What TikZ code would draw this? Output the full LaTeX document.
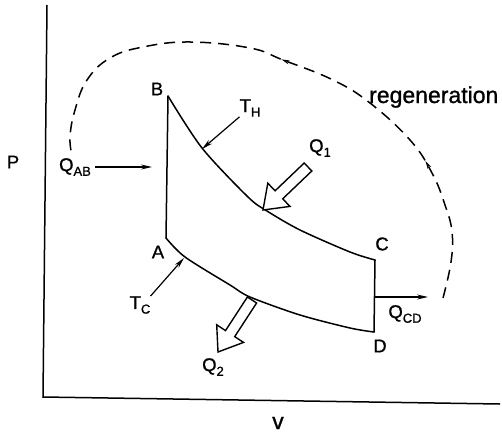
\documentclass[tikz,border=0pt]{standalone}
\usepackage{fontspec}
\setmainfont{Liberation Sans}[FakeBold=1]
\usetikzlibrary{arrows.meta,decorations.markings}
\newcommand\lsub[1]{\raisebox{-0.25em}{\fontsize{13}{13}\selectfont #1}}
\begin{document}
\begin{tikzpicture}[x=1pt,y=-1pt,
  ax/.style={line width=1.5pt},
  cyc/.style={line width=1.5pt, line cap=round, line join=round},
  lbl/.style={font=\fontsize{18.5}{18.5}\selectfont, inner sep=0pt},
  ptr/.style={line width=1.2pt, -{Stealth[length=11pt,width=5pt]}},
  hollow/.style={line width=1.4pt, fill=white, line join=miter},
  regen/.style={line width=1.5pt, dash pattern=on 11pt off 7pt}]
\useasboundingbox (0,0) rectangle (502,433);
% axes
\coordinate (ytop) at (47,5);
\coordinate (O) at (43,397);
\coordinate (xend) at (500,404);
\draw[ax] (ytop) -- (O) -- (xend);
\node[lbl] (Pl) at (13,162) {P};
\node[lbl, font=\fontsize{23}{23}\selectfont] (vl) at (278,423) {v};
% cycle corners
\coordinate (B) at (168,96);
\coordinate (A) at (166,238);
\coordinate (C) at (375,260);
\coordinate (D) at (374,332);
\draw[cyc] (A) -- (B);
\draw[cyc] plot[smooth] coordinates {(B) (202,148) (248,197) (267,211) (300,230) (350,252) (C)};
\draw[cyc] (C) -- (D);
\draw[cyc] plot[smooth] coordinates {(A) (185,257) (230,285) (250,297) (300,315) (350,328) (D)};
\node[lbl] (Bl) at (157,89) {B};
\node[lbl] (Al) at (158,252) {A};
\node[lbl] (Cl) at (382,244) {C};
\node[lbl] (Dl) at (380,346) {D};
% temperature labels
\node[lbl] (THl) at (250,108) {T\lsub{H}};
\coordinate (th) at (202,149);
\draw[ptr] (THl.south west) -- (th);
\node[lbl] (TCl) at (140,305) {T\lsub{C}};
\coordinate (tc) at (184,258);
\draw[ptr] (TCl.north east) -- (tc);
% heat flows
\node[lbl] (QABl) at (75,167) {Q\lsub{AB}};
\coordinate (qab) at (152,167);
\draw[ptr] ([xshift=4pt]QABl.east) -- (qab);
\coordinate (qcd0) at (375,297);
\coordinate (qcd1) at (428,297);
\draw[ptr] (qcd0) -- (qcd1);
\node[lbl] (QCDl) at (405,314) {Q\lsub{CD}};
% hollow arrows
\draw[hollow] (263,210) -- (290.0,206.4) -- (282.7,198.8) -- (311.8,171.0) -- (304.2,163.0) -- (275.1,190.8) -- (267.8,183.2) -- cycle;
\node[lbl] (Q1l) at (320,148) {Q\lsub{1}};
\draw[hollow] (218,352) -- (243.5,342.4) -- (234.7,336.6) -- (256.6,303.0) -- (247.4,297.0) -- (225.5,330.6) -- (216.7,324.8) -- cycle;
\node[lbl] (Q2l) at (213,367) {Q\lsub{2}};
% regeneration
\coordinate (rs) at (443,298);
\coordinate (re) at (72,155);
\draw[regen, postaction={decorate}, decoration={markings,
   mark=at position 0.235 with {\arrow[solid]{Stealth[length=8pt,width=4pt]}},
   mark=at position 0.53 with {\arrow[solid]{Stealth[length=8pt,width=4pt]}}}]
  plot[smooth, tension=0.7] coordinates {(rs) (451,262) (452,232) (445,205) (432,173) (410,140) (370,103) (333,80) (283,60) (250,48) (190,42) (143,47) (110,58) (87,80) (75,110) (70,137) (re)};
\node[lbl, font=\fontsize{23}{23}\selectfont, anchor=base west] (rgl) at (369,103) {regeneration};
\end{tikzpicture}
\end{document}
